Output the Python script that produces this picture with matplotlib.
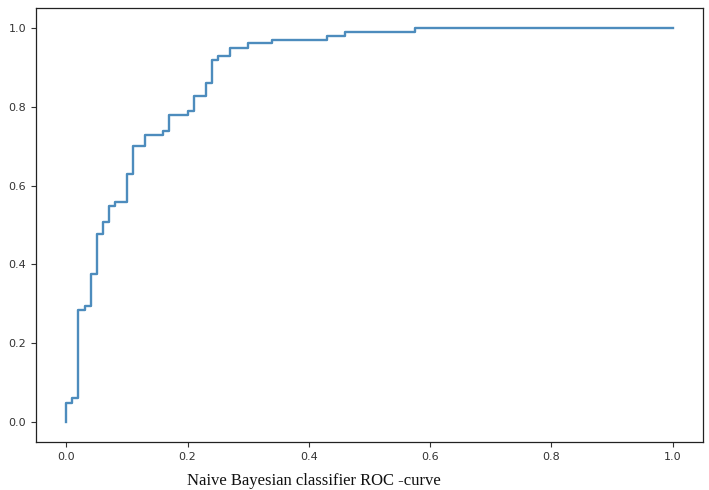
import matplotlib
matplotlib.use("Agg")
import matplotlib.pyplot as plt

# ROC curve corner points (false positive rate, true positive rate)
fpr = [0.00, 0.00, 0.01, 0.02, 0.03, 0.04, 0.05, 0.06, 0.07, 0.08, 0.10, 0.11,
       0.13, 0.16, 0.17, 0.20, 0.21, 0.23, 0.24, 0.25, 0.27, 0.30, 0.34, 0.43,
       0.46, 0.575, 1.00]
tpr = [0.00, 0.05, 0.062, 0.285, 0.295, 0.376, 0.477, 0.507, 0.547, 0.559, 0.629, 0.70,
       0.727, 0.737, 0.778, 0.79, 0.828, 0.86, 0.919, 0.929, 0.949, 0.96, 0.97, 0.98,
       0.99, 1.00, 1.00]

xticks = [0.0, 0.2, 0.4, 0.6, 0.8, 1.0]
yticks = [0.0, 0.2, 0.4, 0.6, 0.8, 1.0]
title = "Naive Bayesian classifier ROC -curve"

fig = plt.figure(figsize=(7.09, 4.90), dpi=100)
ax = fig.add_axes([0.0508, 0.098, 0.9407, 0.8857])
ax.plot(fpr, tpr, drawstyle="steps-post", color="#4d8cbd", linewidth=1.7)
ax.set_xticks(xticks)
ax.set_yticks(yticks)
ax.set_xticklabels([f"{t:.1f}" for t in xticks])
ax.set_yticklabels([f"{t:.1f}" for t in yticks])
ax.tick_params(labelsize=8, colors="#333333", length=3.5, width=0.8)
for s in ax.spines.values():
    s.set_color("#222222")
    s.set_linewidth(0.9)

fig.text(0.443, 0.018, title, ha="center", va="center",
         family="Liberation Serif", fontsize=12, color="#111111")

fig.savefig("out.png", dpi=100)
